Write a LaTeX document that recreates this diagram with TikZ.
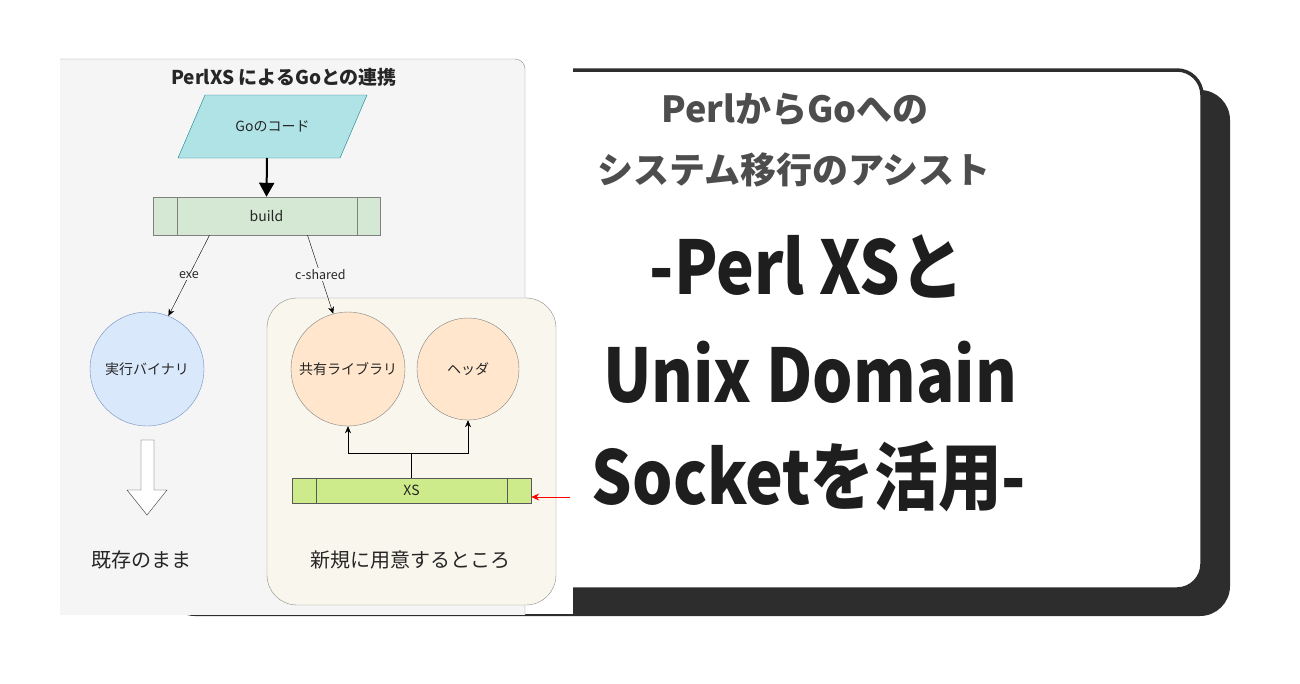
\documentclass[tikz,border=0pt]{standalone}
\usepackage{fontspec}
\setmainfont{Noto Sans CJK JP}
\usetikzlibrary{arrows.meta}
\usetikzlibrary{calc}

\definecolor{shadowgray}{HTML}{2D2D2D}
\definecolor{headblack}{HTML}{1E1E1E}
\definecolor{panelgray}{HTML}{F5F5F5}
\definecolor{panelline}{HTML}{8C8C8C}
\definecolor{txtgray}{HTML}{262626}
\definecolor{subgray}{HTML}{4D4D4D}
\definecolor{tealfill}{HTML}{B0E3E6}
\definecolor{tealline}{HTML}{0E8088}
\definecolor{buildfill}{HTML}{D5E8D4}
\definecolor{binfill}{HTML}{DAE8FC}
\definecolor{binline}{HTML}{6C8EBF}
\definecolor{libfill}{HTML}{FFE6CC}
\definecolor{newfill}{HTML}{F9F7ED}
\definecolor{xsfill}{HTML}{CDEB8B}

\begin{document}
\begin{tikzpicture}[x=1pt, y=-1pt,
  every node/.style={text=txtgray, font=\fontsize{14}{16}\selectfont},
  proc/.style={draw=gray, rectangle, inner sep=0pt},
  ball/.style={circle, draw=gray, inner sep=0pt},
  edgelabel/.style={fill=panelgray, inner sep=1pt, font=\fontsize{12.5}{14}\selectfont},
  flow/.style={-{Stealth[length=7,width=6]}},
  caption/.style={font=\fontsize{20}{22}\selectfont},
  subtitle/.style={text=subgray, font=\fontsize{36}{40}\selectfont\bfseries},
  headline/.style={text=headblack, font=\fontsize{74}{80}\selectfont\bfseries}]
\useasboundingbox (0,0) rectangle (1300,683);
\fill[shadowgray, rounded corners=30] (165,90) rectangle (1230,616);
\draw[shadowgray, line width=3.5, fill=white, rounded corners=25] (140,70) rectangle (1202,589);
\fill[white] (60,55) rectangle (573,614);
\begin{scope}
  \clip (60,58) rectangle (573,614);
  \draw[panelline, fill=panelgray, rounded corners=10] (40,59) rectangle (525,640);
\end{scope}

\node[font=\fontsize{19}{21}\selectfont\bfseries] (title) at (284,77) {PerlXS によるGoとの連携};
\draw[tealline, fill=tealfill]
       (178,158)
  -- ++(27,-63)
  -- ++(162,0)
  -- ++(-27,63)
  -- cycle;
\node (code) at (272.5,126.5) {Goのコード};
\coordinate (codebase) at (267,158);
\node[proc, fill=buildfill, minimum width=227, minimum height=38] (build) at (266.5,216) {build};
\draw[gray] ($(build.north west)+(24,0)$) -- ($(build.south west)+(24,0)$);
\draw[gray] ($(build.north east)+(-23,0)$) -- ($(build.south east)+(-23,0)$);
\draw[line width=2, -{Triangle[length=14,width=15]}] (codebase) -- (build.north);

\node[ball, fill=binfill, draw=binline, minimum size=114] (bin) at (147,369) {実行バイナリ};
\node[draw=panelline, fill=newfill, rounded corners=30, minimum width=289, minimum height=307] (newbox) at (411.5,451.5) {};
\node[ball, fill=libfill, minimum size=114] (lib) at (348,369) {共有ライブラリ};
\node[ball, fill=libfill, minimum size=102] (hdr) at (468,369) {ヘッダ};
\node[proc, draw=black!65, fill=xsfill, minimum width=239, minimum height=25] (xs) at (411.5,490.5) {XS};
\draw[black!65] ($(xs.north west)+(24,0)$) -- ($(xs.south west)+(24,0)$);
\draw[black!65] ($(xs.north east)+(-24,0)$) -- ($(xs.south east)+(-24,0)$);

\draw[flow] ($(build.south)+(-57,0)$) -- node[edgelabel]{exe} (bin.68);
\draw[flow] ($(build.south)+(41,0)$) -- node[edgelabel]{c-shared} (lib.105);
\coordinate (fork) at ($(xs.north)+(0,-25)$);
\draw (xs.north) -- (fork);
\draw[flow] (fork) -| (lib.south);
\draw[flow] (fork) -| (hdr.south);
\coordinate (redtail) at (570,497);
\draw[red, line width=1, -{Stealth[length=8,width=7]}] (redtail) -- (xs.east |- redtail);

\draw[black!80, fill=white]
       (141,440)
  -- ++(13,0)
  -- ++(0,50)
  -- ++(13,0)
  -- ++(-20,25)
  -- ++(-20,-25)
  -- ++(14,0)
  -- cycle;
\node[caption] (keep) at (141,560) {既存のまま};
\node[caption] (fresh) at (410,560) {新規に用意するところ};

\node[subtitle] (sub1) at (795,110) {PerlからGoへの};
\node[subtitle] (sub2) at (794,170) {システム移行のアシスト};
\node[headline] (head1) at (807,267) {\scalebox{0.86}[1]{-Perl XSと}};
\node[headline] (head2) at (810,372) {\scalebox{0.86}[1]{Unix Domain}};
\node[headline] (head3) at (809,477) {\scalebox{0.86}[1]{Socketを活用-}};
\end{tikzpicture}
\end{document}
